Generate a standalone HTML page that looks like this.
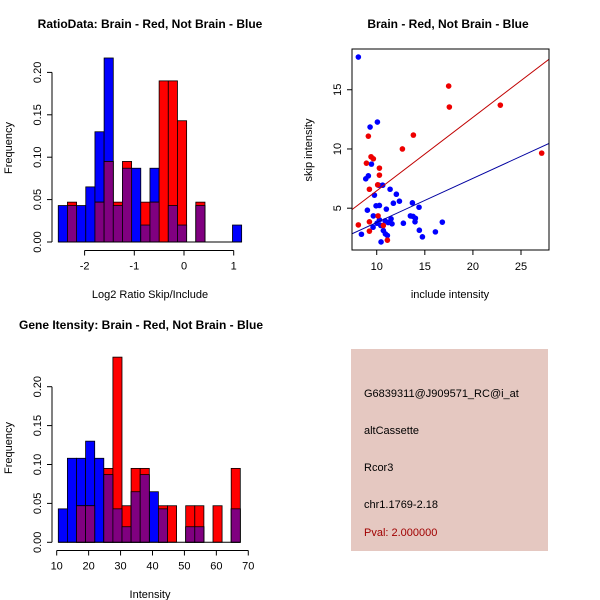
<!DOCTYPE html>
<html><head><meta charset="utf-8"><style>
body{margin:0;background:#fff}
svg{display:block;font-family:"Liberation Sans",sans-serif}
</style></head><body>
<svg id="c" width="600" height="600" xmlns="http://www.w3.org/2000/svg">
<rect width="600" height="600" fill="#fff"/>
<text x="150" y="28" text-anchor="middle" font-weight="bold" font-size="12">RatioData: Brain - Red, Not Brain - Blue</text>
<text x="448" y="28" text-anchor="middle" font-weight="bold" font-size="12">Brain - Red, Not Brain - Blue</text>
<text x="141" y="329" text-anchor="middle" font-weight="bold" font-size="12">Gene Itensity: Brain - Red, Not Brain - Blue</text>
<g id="p1"></g>
<g id="p2"></g>
<g id="p3"></g>
<g>
<rect x="351" y="349" width="197" height="202" fill="#e5c8c1"/>
<text x="364" y="397" font-size="11">G6839311@J909571_RC@i_at</text>
<text x="364" y="434" font-size="11">altCassette</text>
<text x="364" y="471" font-size="11">Rcor3</text>
<text x="364" y="508" font-size="11">chr1.1769-2.18</text>
<text x="364" y="536" font-size="11" fill="#a00000">Pval: 2.000000</text>
</g>
</svg>
<script>
// ratio histogram data
const ratioStart=-2.53, ratioWidth=0.1845;
const ratioBlue=[0.043,0.043,0.043,0.065,0.13,0.217,0.043,0.087,0.087,0.02,0.087,0,0.043,0.02,0,0.043,0,0,0,0.02];
const ratioRed=[0,0.047,0,0,0.047,0.095,0.047,0.095,0,0.047,0.047,0.19,0.19,0.143,0,0.047,0,0,0,0];
const ratioXTicks=[-2,-1,0,1];
const ratioYTicks=["0.00","0.05","0.10","0.15","0.20"];
// intensity histogram data
const intStart=10.5, intWidth=2.85;
const intBlue=[0.043,0.108,0.108,0.13,0.108,0.087,0.043,0.02,0.065,0.087,0.065,0.043,0,0,0.02,0.02,0,0,0,0.043];
const intRed=[0,0,0.047,0.047,0,0.095,0.238,0.047,0.095,0.095,0,0.047,0.047,0,0.047,0.047,0,0.047,0,0.095];
const intXTicks=[10,20,30,40,50,60,70];
const intYTicks=["0.00","0.05","0.10","0.15","0.20"];
// scatter data
const blueX=[8.09,10.07,9.31,9.45,9.13,8.86,10.21,10.62,9.76,11.39,12.04,9.93,10.28,11.73,12.36,13.71,14.4,9.03,11.0,9.65,10.28,10.03,10.42,9.62,10.87,11.18,11.49,11.59,10.69,10.9,11.11,10.45,12.77,13.5,13.78,14.02,13.98,14.43,14.75,16.1,16.82,8.41];
const blueY=[17.76,12.27,11.85,8.72,7.73,7.48,6.94,6.94,6.1,6.6,6.18,5.2,5.23,5.42,5.59,5.45,5.08,4.83,4.92,4.35,4.01,3.73,3.54,3.39,3.93,3.79,4.1,3.68,3.11,2.83,2.69,2.15,3.73,4.35,4.3,4.15,3.85,3.14,2.58,3.0,3.82,2.8];
const redX=[8.09,9.24,9.24,8.93,9.13,9.41,9.65,9.24,10.1,10.28,10.28,10.14,10.69,11.11,12.67,13.81,17.48,17.55,22.85,27.15];
const redY=[3.59,3.85,3.06,8.8,11.08,9.34,9.17,6.6,6.97,8.38,7.79,4.35,3.54,2.3,10.0,11.17,15.31,13.54,13.7,9.65];
const redFit=[0.27,0.62];   // intercept, slope
const blueFit=[0.07,0.3725];
const scXTicks=[10,15,20,25];
const scYTicks=[5,10,15];

const NS="http://www.w3.org/2000/svg";
function mk(parent,tag,attrs){const e=document.createElementNS(NS,tag);for(const k in attrs)e.setAttribute(k,attrs[k]);parent.appendChild(e);return e;}

function hist(g,start,w,blue,red,xs,ys,xt,yt,xlab,yAxisX,xAxisY,labY,xlabY){
  const n=blue.length;
  for(let i=0;i<n;i++){
    const x0=xs(start+i*w),x1=xs(start+(i+1)*w);
    if(blue[i]>0){const r=mk(g,'rect',{x:x0,y:ys(blue[i]),width:x1-x0,height:ys(0)-ys(blue[i]),fill:'#0000ff',stroke:'#000','stroke-width':0.8});
      
      }
  }
  for(let i=0;i<n;i++){
    const x0=xs(start+i*w),x1=xs(start+(i+1)*w);
    if(red[i]>0){const r=mk(g,'rect',{x:x0,y:ys(red[i]),width:x1-x0,height:ys(0)-ys(red[i]),fill:'#ff0000',stroke:'#000','stroke-width':0.8});
      
      }
  }
  for(let i=0;i<n;i++){
    const m=Math.min(blue[i],red[i]);const x0=xs(start+i*w),x1=xs(start+(i+1)*w);
    if(m>0){const r=mk(g,'rect',{x:x0,y:ys(m),width:x1-x0,height:ys(0)-ys(m),fill:'#800080',stroke:'#000','stroke-width':0.8});
      
      }
  }
  mk(g,'line',{x1:xs(start),x2:xs(start+n*w),y1:ys(0),y2:ys(0),stroke:'#000'});
  mk(g,'line',{x1:xs(xt[0]),x2:xs(xt[xt.length-1]),y1:xAxisY,y2:xAxisY,stroke:'#000'});
  xt.forEach(v=>{mk(g,'line',{x1:xs(v),x2:xs(v),y1:xAxisY,y2:xAxisY+5,stroke:'#000'});
    const t=mk(g,'text',{x:xs(v),y:xAxisY+19,'text-anchor':'middle','font-size':11});t.textContent=v;
    
    });
  const yv=yt.map(Number);
  mk(g,'line',{x1:yAxisX,x2:yAxisX,y1:ys(yv[0]),y2:ys(yv[yv.length-1]),stroke:'#000'});
  yt.forEach(s=>{const v=Number(s);mk(g,'line',{x1:yAxisX-5,x2:yAxisX,y1:ys(v),y2:ys(v),stroke:'#000'});
    const t=mk(g,'text',{x:0,y:0,'text-anchor':'middle','font-size':11,transform:`translate(${yAxisX-11},${ys(v)}) rotate(-90)`});t.textContent=s;
    
    });
  const xl=mk(g,'text',{x:150,y:xlabY,'text-anchor':'middle','font-size':11});xl.textContent=xlab;
  
  
  const yl=mk(g,'text',{x:0,y:0,'text-anchor':'middle','font-size':11,transform:`translate(12,${labY}) rotate(-90)`});yl.textContent='Frequency';
  
  
}
{const xs=v=>184+v*49.7, ys=v=>242-v*848;
 hist(document.getElementById('p1'),ratioStart,ratioWidth,ratioBlue,ratioRed,xs,ys,ratioXTicks,ratioYTicks,'Log2 Ratio Skip/Include',52,250.5,148,298);}
{const xs=v=>56.7+(v-10)*3.193, ys=v=>542.3-v*778;
 hist(document.getElementById('p3'),intStart,intWidth,intBlue,intRed,xs,ys,intXTicks,intYTicks,'Intensity',52,550.5,448,598);}
{const g=document.getElementById('p2');
 const L=352,R=549,T=49,B=250,x0=7.43,x1=27.91,y0=1.47,y1=18.44;
 const xs=v=>L+(v-x0)/(x1-x0)*(R-L), ys=v=>B-(v-y0)/(y1-y0)*(B-T);
 const cp=mk(g,'clipPath',{id:'clp'});mk(cp,'rect',{x:L,y:T,width:R-L,height:B-T});
 blueX.forEach((x,i)=>{const c=mk(g,'circle',{cx:xs(x),cy:ys(blueY[i]),r:2.8,fill:'#0000ff'});
   
   });
 redX.forEach((x,i)=>{const c=mk(g,'circle',{cx:xs(x),cy:ys(redY[i]),r:2.8,fill:'#ee0000'});
   
   });
 const rl=mk(g,'line',{x1:xs(x0),y1:ys(redFit[0]+redFit[1]*x0),x2:xs(x1),y2:ys(redFit[0]+redFit[1]*x1),stroke:'#c00000','clip-path':'url(#clp)'});
 
 
 const bl=mk(g,'line',{x1:xs(x0),y1:ys(blueFit[0]+blueFit[1]*x0),x2:xs(x1),y2:ys(blueFit[0]+blueFit[1]*x1),stroke:'#0000a0','clip-path':'url(#clp)'});
 
 
 mk(g,'rect',{x:L,y:T,width:R-L,height:B-T,fill:'none',stroke:'#000'});
 scXTicks.forEach(v=>{mk(g,'line',{x1:xs(v),x2:xs(v),y1:B,y2:B+5,stroke:'#000'});
   const t=mk(g,'text',{x:xs(v),y:B+20,'text-anchor':'middle','font-size':11});t.textContent=v;
   
   });
 scYTicks.forEach(v=>{mk(g,'line',{x1:L-5,x2:L,y1:ys(v),y2:ys(v),stroke:'#000'});
   const t=mk(g,'text',{x:0,y:0,'text-anchor':'middle','font-size':11,transform:`translate(${L-11},${ys(v)}) rotate(-90)`});t.textContent=v;
   
   });
 const xl=mk(g,'text',{x:450,y:298,'text-anchor':'middle','font-size':11});xl.textContent='include intensity';
 
 
 const yl=mk(g,'text',{x:0,y:0,'text-anchor':'middle','font-size':11,transform:`translate(312,150) rotate(-90)`});yl.textContent='skip intensity';
 
 
}
</script>
</body></html>
